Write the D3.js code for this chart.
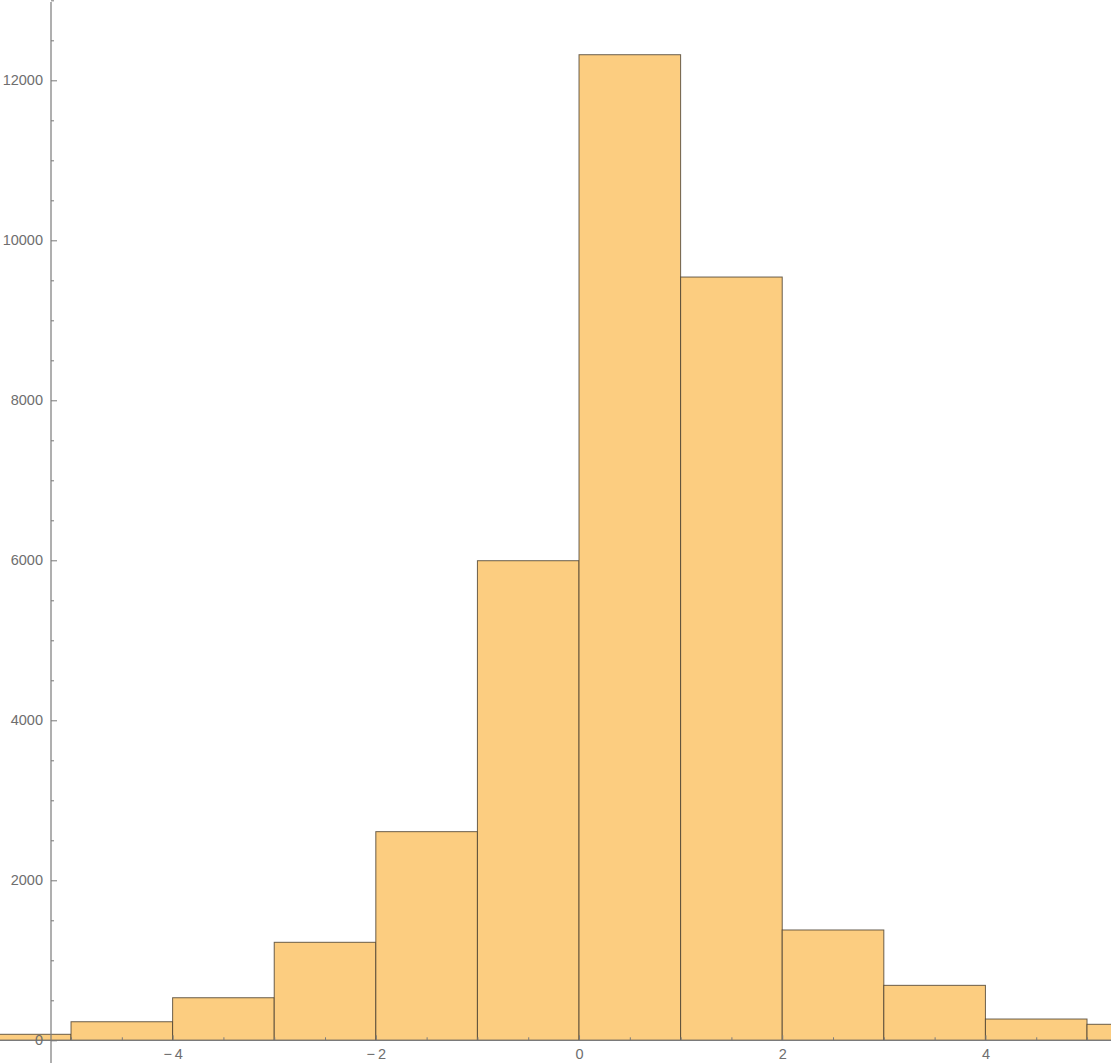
<!DOCTYPE html>
<html>
<head>
<meta charset="utf-8">
<script src="https://cdn.jsdelivr.net/npm/d3@7"></script>
<style>
  html, body { margin: 0; padding: 0; background: #fff; }
  svg { display: block; }
  .tick text { font-family: "Liberation Sans", Arial, sans-serif; font-size: 14.5px; fill: #6e6e6e; }
</style>
</head>
<body>
<svg id="chart" width="1111" height="1063"></svg>
<script>
// Histogram bins (left edges, width 1) and counts
const binStarts = [-6, -5, -4, -3, -2, -1, 0, 1, 2, 3, 4, 5];
const counts    = [75, 232, 532, 1225, 2608, 5995, 12320, 9541, 1379, 687, 266, 200];
const binWidth = 1;

const xMajorTicks = [-4, -2, 0, 2, 4];
const xMinorTicks = [-5, -4.5, -3.5, -3, -2.5, -1.5, -1, -0.5, 0.5, 1, 1.5, 2.5, 3, 3.5, 4.5, 5];
const yMajorTicks = [0, 2000, 4000, 6000, 8000, 10000, 12000];
const yMinorTicks = [500, 1000, 1500, 2500, 3000, 3500, 4500, 5000, 5500, 6500, 7000, 7500,
                     8500, 9000, 9500, 10500, 11000, 11500, 12500, 13000];
const xLabel = v => v < 0 ? "\u2212\u2009" + Math.abs(v) : String(v);

const W = 1111, H = 1063;
const svg = d3.select("#chart");

const x = d3.scaleLinear().domain([-5.699, 5.236]).range([0, W]);
const y = d3.scaleLinear().domain([0, 13004]).range([1040.3, 0]);

const axisX = -5.197; // where the vertical axis crosses

// bars
svg.append("g").selectAll("rect")
  .data(binStarts.map((s, i) => ({ s, c: counts[i] })))
  .join("rect")
  .attr("x", d => x(d.s))
  .attr("width", d => x(d.s + binWidth) - x(d.s))
  .attr("y", d => y(d.c))
  .attr("height", d => y(0) - y(d.c))
  .attr("fill", "#fccd80")
  .attr("stroke", "rgba(70,60,45,0.8)")
  .attr("stroke-width", 1);

const axisColor = "#7a7a7a";

// X axis
const gx = svg.append("g").attr("transform", `translate(0,${y(0)})`);
gx.append("line").attr("x1", 0).attr("x2", W).attr("y1", 0).attr("y2", 0)
  .attr("stroke", axisColor).attr("stroke-width", 1.2);
const xMaj = gx.append("g").call(d3.axisBottom(x).tickValues(xMajorTicks)
  .tickSizeInner(-5).tickSizeOuter(0).tickPadding(8).tickFormat(xLabel));
const xMin = gx.append("g").call(d3.axisBottom(x).tickValues(xMinorTicks)
  .tickSizeInner(-3).tickSizeOuter(0).tickFormat(""));
[xMaj, xMin].forEach(g => {
  g.select(".domain").remove();
  g.selectAll(".tick line").attr("stroke", axisColor);
});

// Y axis
const gy = svg.append("g").attr("transform", `translate(${x(axisX)},0)`);
gy.append("line").attr("x1", 0).attr("x2", 0).attr("y1", 2).attr("y2", H)
  .attr("stroke", axisColor).attr("stroke-width", 1.2);
const yMaj = gy.append("g").call(d3.axisLeft(y).tickValues(yMajorTicks)
  .tickSizeInner(-6).tickSizeOuter(0).tickPadding(8).tickFormat(d3.format("d")));
const yMin = gy.append("g").call(d3.axisLeft(y).tickValues(yMinorTicks)
  .tickSizeInner(-3).tickSizeOuter(0).tickFormat(""));
[yMaj, yMin].forEach(g => {
  g.select(".domain").remove();
  g.selectAll(".tick line").attr("stroke", axisColor);
});
</script>
</body>
</html>
